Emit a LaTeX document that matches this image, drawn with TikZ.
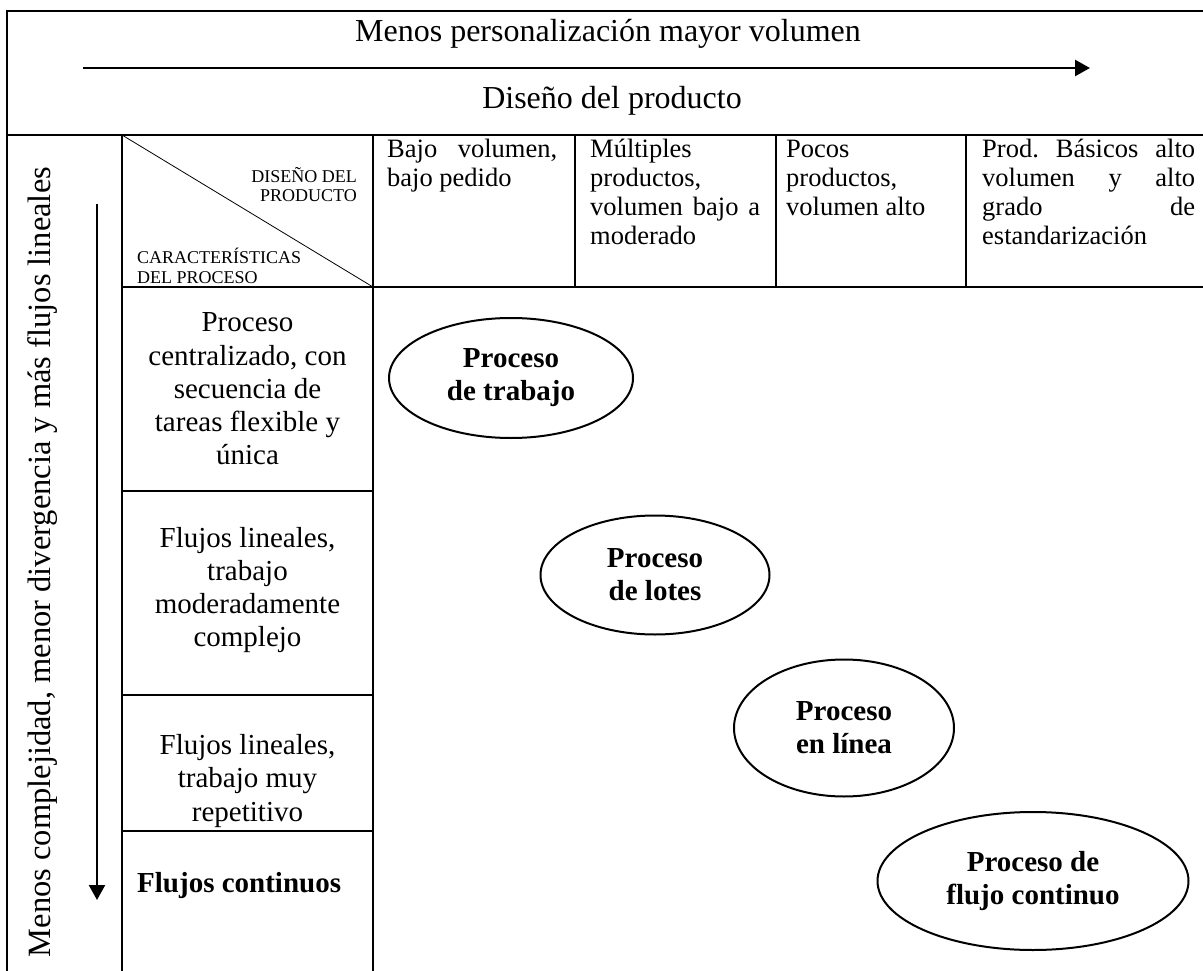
\documentclass[tikz,border=0pt]{standalone}
\usepackage{fontspec}
\setmainfont{Liberation Serif}
\usetikzlibrary{arrows.meta,shapes.geometric}
\tolerance=9999
\hyphenpenalty=10000
\frenchspacing

\begin{document}
\begin{tikzpicture}[x=1pt,y=-1pt,
  rule/.style={line width=2.4pt},
  axis/.style={line width=2.3pt,-{Triangle[length=15pt,width=16pt]}},
  big/.style={inner sep=0pt,font=\fontsize{32}{36}\selectfont},
  hdr/.style={anchor=base west,inner sep=0pt,align=justify,font=\fontsize{26.5}{29}\selectfont},
  rowlbl/.style={inner sep=0pt,align=center,font=\fontsize{29}{33.3}\selectfont},
  corner/.style={inner sep=0pt,font=\fontsize{18}{20}\selectfont},
  proc/.style={ellipse,draw,line width=2pt,inner sep=0pt,align=center,font=\bfseries\fontsize{29}{33}\selectfont}]
\path[use as bounding box] (0,0) rectangle (1203,971);

% frame and table rules
\draw[rule] (1203,11) -- (7,11) -- (7,971);
\draw[rule] (7,135) -- (1203,135);
\draw[rule] (122,135) -- (122,971);
\draw[rule] (373,135) -- (373,971);
\draw[rule] (122,287) -- (1203,287);
\foreach \x in {575,776,966} \draw[rule] (\x,135) -- (\x,287);
\foreach \y in {491,695,831} \draw[rule] (122,\y) -- (373,\y);
\draw[line width=.8pt] (122,135) -- (373,287);

% top band
\node[big,anchor=base] (vol) at (608,42) {Menos personalización mayor volumen};
\coordinate (vol0) at (83,68);
\coordinate (vol1) at (1090,68);
\draw[axis] (vol0) -- (vol1);
\node[big,anchor=base] (dis) at (612,109) {Diseño del producto};

% left axis
\node[big,anchor=base,rotate=90,font=\fontsize{32.5}{36}\selectfont] (cplx) at (50,562) {Menos complejidad, menor divergencia y más flujos lineales};
\coordinate (cplx0) at (97,204);
\coordinate (cplx1) at (97,900);
\draw[axis] (cplx0) -- (cplx1);

% corner cell
\node[corner,anchor=base east,align=right] (dp) at (357,202) {DISEÑO DEL\\PRODUCTO};
\node[corner,anchor=base west,align=left] (cp) at (137,283) {CARACTERÍSTICAS\\DEL PROCESO};

% product design columns
\node[hdr,text width=170] (h1) at (387,158) {Bajo volumen,\linebreak bajo pedido};
\node[hdr,text width=170] (h2) at (590,158) {Múltiples\\ productos,\\ volumen bajo a\linebreak moderado};
\node[hdr,text width=166] (h3) at (786,158) {Pocos\\ productos,\\ volumen alto};
\node[hdr,text width=213] (h4) at (982,158) {Prod. Básicos alto\linebreak volumen y alto\linebreak grado de\linebreak estandarización};

% process rows
\node[rowlbl] (r1) at (247.5,389) {Proceso\\centralizado, con\\secuencia de\\tareas flexible y\\única};
\node[rowlbl] (r2) at (247.5,590) {Flujos lineales,\\trabajo\\moderadamente\\complejo};
\node[rowlbl] (r3) at (247.5,781) {Flujos lineales,\\trabajo muy\\repetitivo};
\node[rowlbl,anchor=base west,font=\bfseries\fontsize{29}{33.3}\selectfont] (r4) at (137,892) {Flujos continuos};

% process types
\node[proc,minimum width=244,minimum height=120] (job) at (511,378) {Proceso\\de trabajo};
\node[proc,minimum width=229,minimum height=119] (batch) at (655,575) {Proceso\\de lotes};
\node[proc,minimum width=220,minimum height=137] (line) at (844,728) {Proceso\\en línea};
\node[proc,minimum width=311,minimum height=138] (flow) at (1033,881) {Proceso de\\flujo continuo};
\end{tikzpicture}
\end{document}
